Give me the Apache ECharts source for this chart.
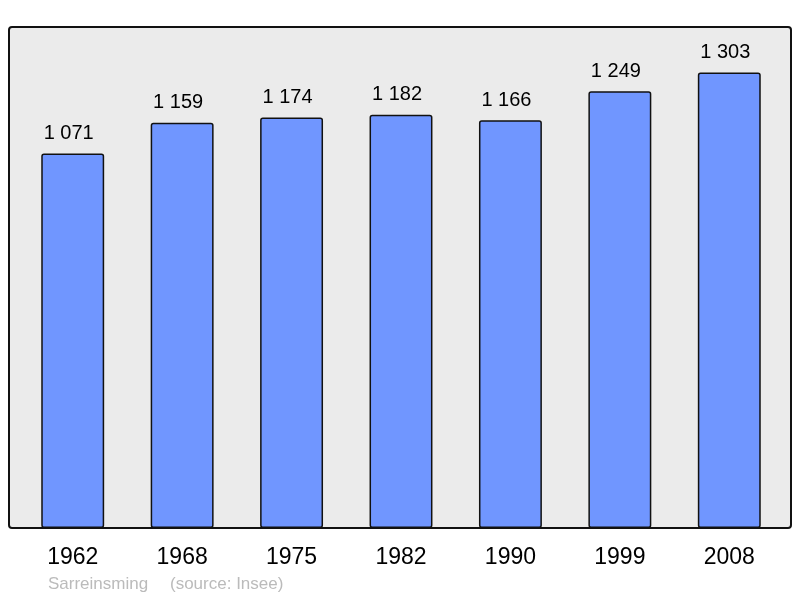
<!DOCTYPE html>
<html>
<head>
<meta charset="utf-8">
<script src="https://cdn.jsdelivr.net/npm/echarts@6/dist/echarts.min.js"></script>
<style>
  html, body { margin: 0; padding: 0; background: #fff; }
  #chart { width: 800px; height: 598px; }
</style>
</head>
<body>
<div id="chart"></div>
<script>
// population par recensement
const years = ['1962', '1968', '1975', '1982', '1990', '1999', '2008'];
const population = [1071, 1159, 1174, 1182, 1166, 1249, 1303];
const commune = 'Sarreinsming';
const source = '(source: Insee)';

const chart = echarts.init(document.getElementById('chart'));

// séparateur des milliers, comme sur l'original
const fmt = v => String(v).replace(/\B(?=(\d{3})+(?!\d))/g, ' ');
const font = 'Liberation Sans, Arial, sans-serif';

const option = {
  animation: false,
  backgroundColor: '#ffffff',
  grid: { left: 18, right: 16, top: 27, bottom: 70 },
  xAxis: {
    type: 'category',
    data: years,
    axisLine: { show: false },
    axisTick: { show: false },
    axisLabel: {
      color: '#000',
      fontSize: 23,
      fontFamily: font,
      margin: 18
    }
  },
  yAxis: {
    type: 'value',
    min: 0,
    max: 1433,
    show: false
  },
  graphic: [
    {
      // fond gris du cadre
      type: 'rect',
      z: -10,
      shape: { x: 9, y: 27, width: 782, height: 501, r: 3 },
      style: { fill: '#ebebeb', stroke: '#111', lineWidth: 2 }
    },
    {
      type: 'text',
      left: 48,
      top: 576,
      style: { text: commune, fill: '#bbbbbb', fontSize: 17, fontFamily: font }
    },
    {
      type: 'text',
      left: 170,
      top: 576,
      style: { text: source, fill: '#bbbbbb', fontSize: 17, fontFamily: font }
    }
  ],
  series: [
    {
      type: 'bar',
      data: population,
      barWidth: '57.5%',
      itemStyle: {
        color: '#7096ff',
        borderColor: '#111',
        borderWidth: 1.5,
        borderRadius: 2
      },
      label: {
        show: true,
        position: 'top',
        distance: 10,
        offset: [-4, 0],
        color: '#000',
        fontSize: 20,
        fontFamily: font,
        formatter: p => fmt(p.value)
      }
    }
  ]
};

chart.setOption(option);
</script>
</body>
</html>
